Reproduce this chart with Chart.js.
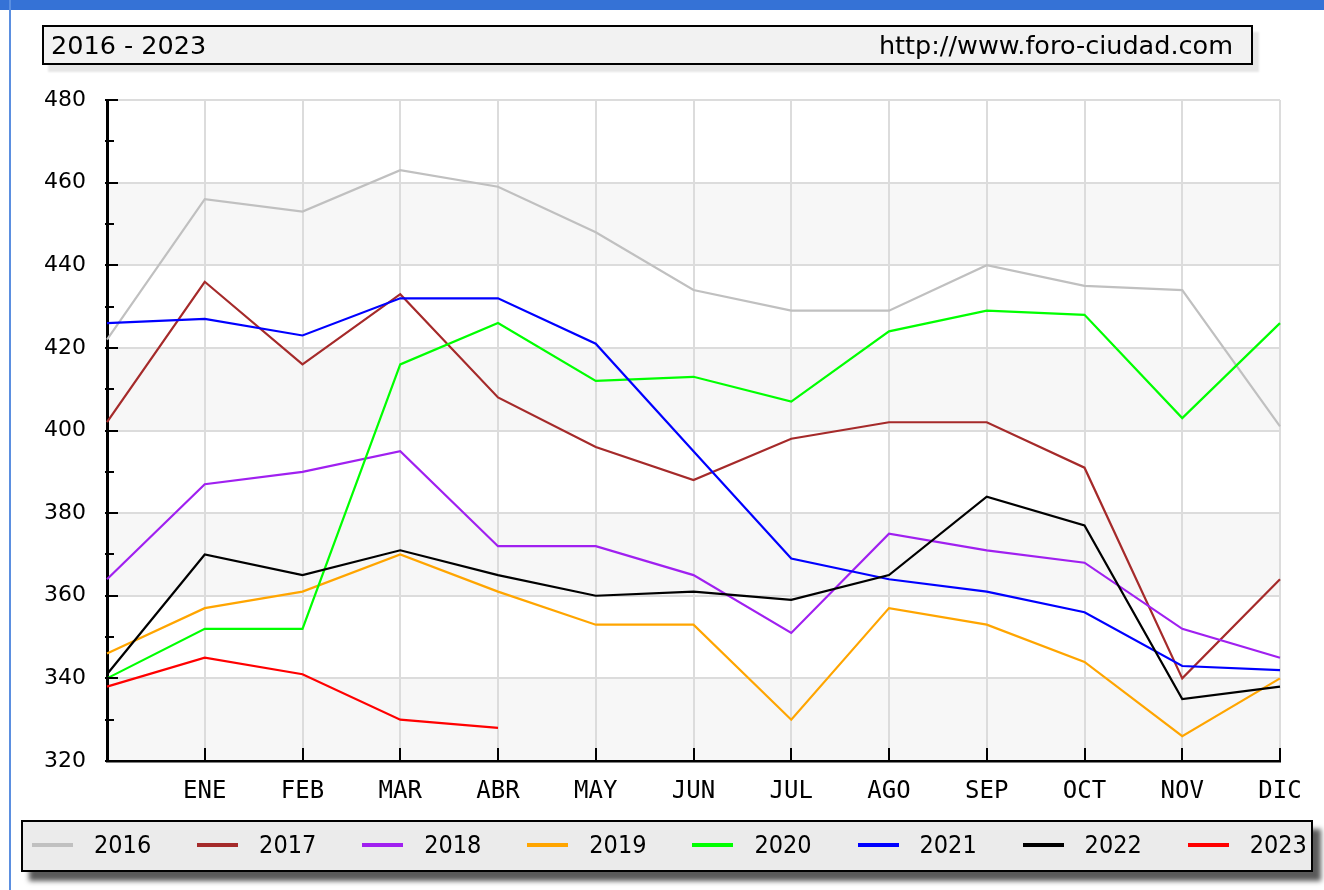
<!DOCTYPE html>
<html>
<head>
<meta charset="utf-8">
<script src="https://cdn.jsdelivr.net/npm/chart.js@4.4.0/dist/chart.umd.min.js"></script>
<style>
  html, body { margin:0; padding:0; background:#fff; }
  body { width:1324px; height:890px; position:relative; overflow:hidden; }
  #topbar { position:absolute; left:0; top:0; width:1324px; height:10px; background:#3572d6; }
  #leftbar { position:absolute; left:9px; top:0; width:2px; height:890px; background:#5b8fe0; }
  #c { position:absolute; left:0; top:0; }
  #title { position:absolute; left:42px; top:25px; width:1211px; height:40px; box-sizing:border-box;
           border:2px solid #000; background:#f2f2f2; box-shadow:6px 7px 2px #e6e6e6;
           font-family:"DejaVu Sans", sans-serif; font-size:25.5px; color:#000; }
  #title .l { position:absolute; left:7px; top:0; line-height:36px; }
  #title .r { position:absolute; right:18px; top:0; line-height:36px; }
  #legend { position:absolute; left:21px; top:820px; width:1292px; height:52px; box-sizing:border-box;
            border:2px solid #000; background:#ebebeb; box-shadow:8px 9px 5px rgba(0,0,0,0.65); }
  .sw { position:absolute; width:41px; height:4px; }
  .lt { position:absolute; font-family:"DejaVu Sans Condensed","DejaVu Sans",sans-serif; font-stretch:condensed;
        font-size:25px; line-height:30px; color:#000; }
</style>
</head>
<body>
<div id="topbar"></div>
<div id="leftbar"></div>
<canvas id="c" width="1324" height="890"></canvas>
<div id="title"><span class="l">2016 - 2023</span><span class="r">http://www.foro-ciudad.com</span></div>
<div id="legend"></div>
<script>
// ---- data ----
const categories = ['', 'ENE', 'FEB', 'MAR', 'ABR', 'MAY', 'JUN', 'JUL', 'AGO', 'SEP', 'OCT', 'NOV', 'DIC'];
const years = ['2016', '2017', '2018', '2019', '2020', '2021', '2022', '2023'];
const colors = ['#c0c0c0', '#a52a2a', '#a020f0', '#ffa500', '#00ff00', '#0000ff', '#000000', '#ff0000'];
const y2016 = [422, 456, 453, 463, 459, 448, 434, 429, 429, 440, 435, 434, 401];
const y2017 = [402, 436, 416, 433, 408, 396, 388, 398, 402, 402, 391, 340, 364];
const y2018 = [364, 387, 390, 395, 372, 372, 365, 351, 375, 371, 368, 352, 345];
const y2019 = [346, 357, 361, 370, 361, 353, 353, 330, 357, 353, 344, 326, 340];
const y2020 = [340, 352, 352, 416, 426, 412, 413, 407, 424, 429, 428, 403, 426];
const y2021 = [426, 427, 423, 432, 432, 421, 395, 369, 364, 361, 356, 343, 342];
const y2022 = [341, 370, 365, 371, 365, 360, 361, 359, 365, 384, 377, 335, 338];
const y2023 = [338, 345, 341, 330, 328, null, null, null, null, null, null, null, null];
const yTicks = [320, 340, 360, 380, 400, 420, 440, 460, 480];
const series = [y2016, y2017, y2018, y2019, y2020, y2021, y2022, y2023];

// ---- legend (HTML) ----
const leg = document.getElementById('legend');
years.forEach((yr, i) => {
  const sw = document.createElement('div');
  sw.className = 'sw';
  sw.style.left = (32 + i * 165.1 - 23) + 'px';
  sw.style.top = (843 - 822) + 'px';
  sw.style.background = colors[i];
  leg.appendChild(sw);
  const t = document.createElement('div');
  t.className = 'lt';
  t.textContent = yr;
  t.style.left = (94 + i * 165.1 - 23) + 'px';
  t.style.top = (845 - 822 - 15) + 'px';
  leg.appendChild(t);
});

// ---- plugins ----
const bands = {
  id: 'bands',
  beforeDraw(chart) {
    const { ctx, chartArea: a, scales: { y } } = chart;
    ctx.save();
    ctx.fillStyle = '#f7f7f7';
    for (let k = 0; k < yTicks.length - 1; k++) {
      if (k % 2 === 0) {
        const top = y.getPixelForValue(yTicks[k + 1]);
        const bot = y.getPixelForValue(yTicks[k]);
        ctx.fillRect(a.left, top, a.right - a.left, bot - top);
      }
    }
    ctx.restore();
  }
};
const axisTicks = {
  id: 'axisTicks',
  afterDraw(chart) {
    const { ctx, chartArea: a, scales: { x, y } } = chart;
    ctx.save();
    ctx.strokeStyle = '#000';
    ctx.lineWidth = 2;
    ctx.beginPath();
    for (let v = yTicks[0]; v <= yTicks[yTicks.length - 1]; v += 10) {
      const py = Math.round(y.getPixelForValue(v));
      const len = (v % 20 === 0) ? 11 : 7;
      ctx.moveTo(a.left - 2, py);
      ctx.lineTo(a.left + len, py);
    }
    for (let i = 1; i < categories.length; i++) {
      const px = Math.round(x.getPixelForValue(i));
      ctx.moveTo(px, a.bottom);
      ctx.lineTo(px, a.bottom - 13);
    }
    ctx.stroke();
    ctx.restore();
  }
};

new Chart(document.getElementById('c'), {
  type: 'line',
  data: {
    labels: categories,
    datasets: years.map((yr, i) => ({
      label: yr,
      data: series[i],
      borderColor: colors[i],
      backgroundColor: colors[i],
      borderWidth: 2.2,
      pointRadius: 0,
      tension: 0,
      spanGaps: false,
      order: -i
    }))
  },
  options: {
    responsive: false,
    animation: false,
    devicePixelRatio: 1,
    layout: { padding: { top: 100, right: 44, left: 0, bottom: 0 } },
    plugins: { legend: { display: false }, tooltip: { enabled: false }, title: { display: false } },
    scales: {
      x: {
        offset: false,
        grid: { color: '#dcdcdc', lineWidth: 2, drawTicks: false },
        border: { color: '#000', width: 2.5 },
        ticks: { autoSkip: false, maxRotation: 0, minRotation: 0, padding: 16, color: '#000',
                 font: { family: '"DejaVu Sans Mono", monospace', size: 24 } },
        afterFit(s) { s.height = 129; }
      },
      y: {
        min: 320, max: 480,
        grid: { color: '#dcdcdc', lineWidth: 2, drawTicks: false },
        border: { color: '#000', width: 3 },
        ticks: { stepSize: 20, padding: 21, color: '#000',
                 font: { family: '"DejaVu Sans", sans-serif', size: 22 } },
        afterFit(s) { s.width = 107; }
      }
    }
  },
  plugins: [bands, axisTicks]
});
</script>
</body>
</html>
